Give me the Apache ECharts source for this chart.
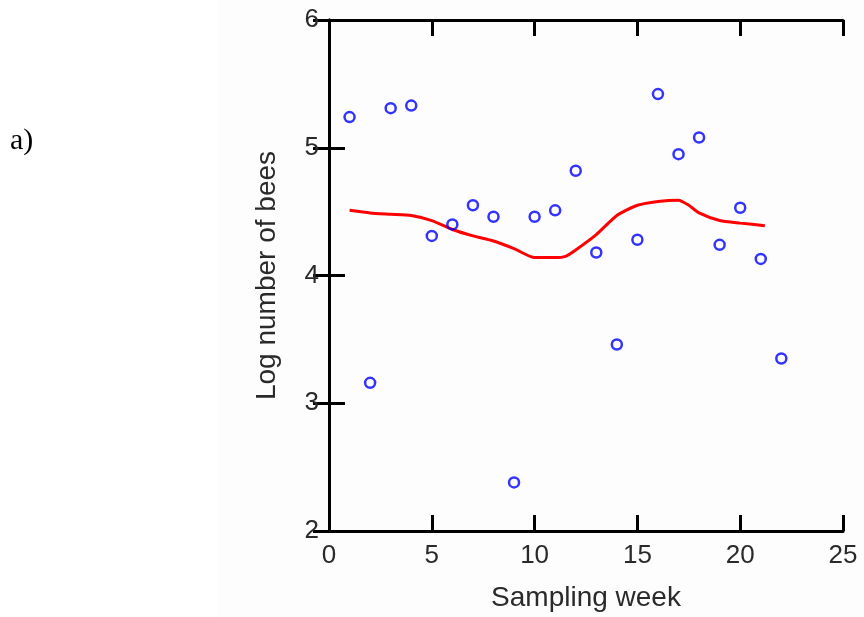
<!DOCTYPE html>
<html>
<head>
<meta charset="utf-8">
<script src="https://cdn.jsdelivr.net/npm/echarts@6/dist/echarts.min.js"></script>
<style>
html,body{margin:0;padding:0;background:#fff;}
#chart{width:864px;height:617px;}
</style>
</head>
<body>
<div id="chart"></div>
<script>
// Observed data (sampling week, log number of bees)
var weeks = [1,2,3,4,5,6,7,8,9,10,11,12,13,14,15,16,17,18,19,20,21,22];
var logBees = [5.24,3.16,5.31,5.33,4.31,4.40,4.55,4.46,2.38,4.46,4.51,4.82,4.18,3.46,4.28,5.42,4.95,5.08,4.24,4.53,4.13,3.35];
// Smoothed (loess) curve
var smoothX = [1,2,3,4,5,6,7,8,9,10,11,11.5,12,13,14,15,16,17,17.5,18,19,20,21.2];
var smoothY = [4.51,4.49,4.48,4.47,4.43,4.36,4.31,4.27,4.21,4.14,4.14,4.15,4.20,4.32,4.47,4.55,4.58,4.59,4.55,4.49,4.43,4.41,4.39];
var xTicks = [0,5,10,15,20,25];
var yTicks = [2,3,4,5,6];

var scatterData = weeks.map(function(w,i){return [w, logBees[i]];});
var lineData = smoothX.map(function(x,i){return [x, smoothY[i]];});

var chart = echarts.init(document.getElementById('chart'), null, {renderer:'canvas'});
var axisLineStyle = {color:'#000', width:3};
var tickStyle = {show:true, inside:true, length:16, lineStyle:{color:'#000', width:3}};
var labelFont = {fontFamily:'Liberation Sans, Arial, sans-serif', fontSize:26, color:'#2a2a2a'};

chart.setOption({
  backgroundColor:'#ffffff',
  animation:false,
  graphic:[
    {type:'rect', z:-10, shape:{x:217,y:0,width:647,height:617}, style:{fill:'#fdfdfd'}},
    {type:'text', left:10, top:126, style:{text:'a)', font:'30px "Liberation Serif", "Times New Roman", serif', fill:'#000'}}
  ],
  grid:{left:329, top:20, width:514, height:512},
  xAxis:[{
    type:'value', min:xTicks[0], max:xTicks[xTicks.length-1], interval:5, position:'bottom',
    name:'Sampling week', nameLocation:'middle', nameGap:53,
    nameTextStyle:{fontFamily:'Liberation Sans, Arial, sans-serif', fontSize:28, color:'#2a2a2a'},
    axisLine:{show:true, lineStyle:axisLineStyle},
    axisTick:tickStyle,
    axisLabel:Object.assign({margin:12}, labelFont),
    splitLine:{show:false}
  },{
    type:'value', min:xTicks[0], max:xTicks[xTicks.length-1], interval:5, position:'top',
    axisLine:{show:true, lineStyle:axisLineStyle},
    axisTick:tickStyle,
    axisLabel:{show:false},
    splitLine:{show:false}
  }],
  yAxis:[{
    type:'value', min:yTicks[0], max:yTicks[yTicks.length-1], interval:1, position:'left',
    name:'Log number of bees', nameLocation:'middle', nameGap:48,
    nameTextStyle:{fontFamily:'Liberation Sans, Arial, sans-serif', fontSize:28, color:'#2a2a2a'},
    axisLine:{show:true, lineStyle:axisLineStyle},
    axisTick:tickStyle,
    axisLabel:Object.assign({margin:10}, labelFont),
    splitLine:{show:false}
  },{
    type:'value', min:yTicks[0], max:yTicks[yTicks.length-1], interval:1, position:'right',
    axisLine:{show:true, lineStyle:axisLineStyle},
    axisTick:tickStyle,
    axisLabel:{show:false},
    splitLine:{show:false}
  }],
  series:[{
    type:'scatter', data:scatterData, symbol:'circle', symbolSize:10,
    itemStyle:{color:'rgba(0,0,0,0)', borderColor:'#0000ff', borderWidth:2.5},
    z:3
  },{
    type:'line', data:lineData, showSymbol:false, smooth:0.2,
    lineStyle:{color:'#ff0000', width:3},
    z:2
  }]
});
</script>
</body>
</html>
